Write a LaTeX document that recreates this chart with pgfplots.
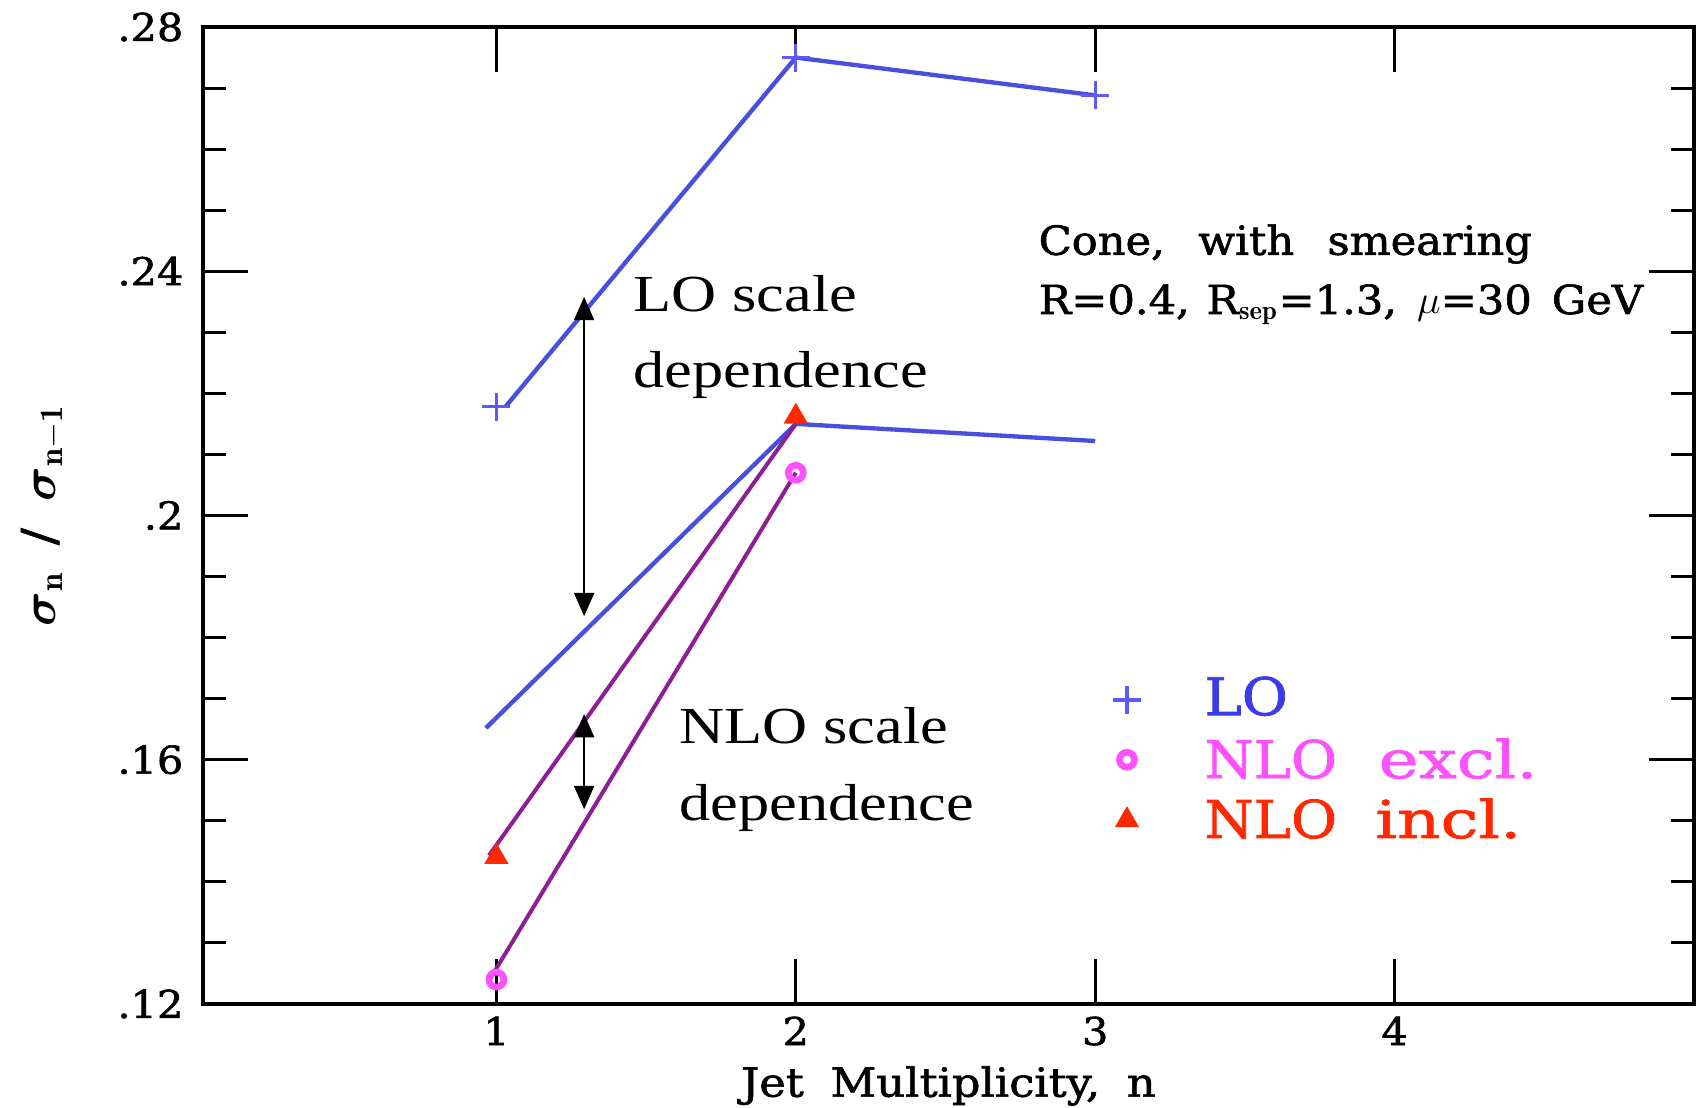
\documentclass[border=0pt]{standalone}
\usepackage{amsmath}
\usepackage{fontspec}
\usepackage{pgfplots}
\pgfplotsset{compat=1.18}
\usetikzlibrary{arrows.meta}
\newfontfamily\axfont[FakeStretch=1.08,FakeBold=1.5]{DejaVu Serif}
\newfontfamily\labfont[FakeStretch=1.12,FakeBold=1.5]{DejaVu Serif}
\newfontfamily\legwide[FakeStretch=1.3,FakeBold=1.5]{DejaVu Serif}
\newfontfamily\anfont[FakeStretch=1.2]{Liberation Serif}
\definecolor{loblue}{RGB}{70,80,220}
\definecolor{plusblue}{RGB}{90,90,255}
\definecolor{nlopurple}{RGB}{140,30,150}
\definecolor{excl}{RGB}{255,80,255}
\definecolor{incl}{RGB}{255,40,0}
\definecolor{lotext}{RGB}{60,60,230}
\begin{document}
\begin{tikzpicture}
\begin{axis}[name=ax, scale only axis, width=447.3pt, height=293.1pt,
  xmin=0.02, xmax=5, ymin=0.12, ymax=0.28, clip=false,
  axis line style={line width=1pt},
  tick style={line width=0.9pt, black},
  tick align=inside,
  xtick={1,2,3,4}, xticklabels={1,2,3,4},
  ytick={0.12,0.16,0.2,0.24,0.28}, yticklabels={.12,.16,.2,.24,.28},
  minor y tick num=3,
  major tick length=13.5pt, minor tick length=7pt,
  ticklabel style={font=\axfont\fontsize{11.5}{13}\selectfont},
  xticklabel style={anchor=base, yshift=-12.3pt},
  yticklabel style={anchor=east, inner sep=0pt, xshift=-5.7pt},
]
% markers (drawn below the lines)
\addplot[only marks, mark=triangle*, mark size=3.8pt, color=incl] coordinates {(1,0.1441) (2,0.2162)};
\addplot[only marks, mark=o, mark size=2.25pt, line width=2pt, color=excl] coordinates {(1,0.1240) (2,0.2070)};
\addplot[only marks, mark=+, mark size=4.2pt, line width=1pt, color=plusblue] coordinates {(1,0.2178) (2,0.2750) (3,0.2688)};
% lines
\addplot[loblue, line width=1.3pt] coordinates {(1.03,0.2178) (2,0.2750) (3,0.2688)};
\addplot[loblue, line width=1.3pt] coordinates {(0.965,0.1652) (2,0.2150) (3,0.2122)};
\addplot[nlopurple, line width=1.2pt] coordinates {(0.975,0.1443) (2,0.2150)};
\addplot[nlopurple, line width=1.2pt] coordinates {(0.975,0.1238) (2,0.2070)};
% legend markers
\addplot[only marks, mark=+, mark size=4.2pt, line width=1pt, color=plusblue] coordinates {(3.106,0.1698)};
\addplot[only marks, mark=o, mark size=2.25pt, line width=2pt, color=excl] coordinates {(3.106,0.1600)};
\addplot[only marks, mark=triangle*, mark size=3.8pt, color=incl] coordinates {(3.106,0.1501)};
% arrows
\draw[line width=0.6pt, {Triangle[width=6pt,length=7pt]}-{Triangle[width=6pt,length=7pt]}] (axis cs:1.293,0.2358) -- (axis cs:1.293,0.1835);
\draw[line width=0.6pt, {Triangle[width=6pt,length=7pt]}-{Triangle[width=6pt,length=7pt]}] (axis cs:1.293,0.1675) -- (axis cs:1.293,0.1519);
% annotations
\node[anchor=base west, inner sep=0pt, font=\anfont\fontsize{15.6}{18}\selectfont] at (axis cs:1.456,0.2334) {LO scale};
\node[anchor=base west, inner sep=0pt, font=\anfont\fontsize{15.6}{18}\selectfont] at (axis cs:1.456,0.2209) {dependence};
\node[anchor=base west, inner sep=0pt, font=\anfont\fontsize{15.6}{18}\selectfont] at (axis cs:1.610,0.1626) {NLO scale};
\node[anchor=base west, inner sep=0pt, font=\anfont\fontsize{15.6}{18}\selectfont] at (axis cs:1.610,0.1501) {dependence};
\node[anchor=base west, inner sep=0pt, font=\axfont\fontsize{12}{14}\selectfont] at (axis cs:2.809,0.2427) {Cone,\hspace{10pt}with\hspace{10pt}smearing};
\node[anchor=base west, inner sep=0pt, font=\axfont\fontsize{12}{14}\selectfont] at (axis cs:2.809,0.2330) {R=0.4,\hspace{5pt}R$_{\mathbf{sep}}$=1.3,\hspace{6pt}$\mu$=30\hspace{6pt}GeV};
% legend text
\node[anchor=base west, inner sep=0pt, text=lotext, font=\axfont\fontsize{15.6}{18}\selectfont] at (axis cs:3.363,0.1673) {LO};
\node[anchor=base west, inner sep=0pt, text=excl, font=\axfont\fontsize{15.6}{18}\selectfont] at (axis cs:3.363,0.1570) {NLO\hspace{12.5pt}{\legwide excl.}};
\node[anchor=base west, inner sep=0pt, text=incl, font=\axfont\fontsize{15.6}{18}\selectfont] at (axis cs:3.363,0.1472) {NLO\hspace{11.5pt}{\legwide incl.}};
\end{axis}
\node[rotate=90, inner sep=0pt, font=\axfont\fontsize{14}{16}\selectfont] at ([xshift=-48pt]ax.west) {$\boldsymbol{\sigma}_{\mathbf{n}}$\hspace{8pt}/\hspace{8pt}$\boldsymbol{\sigma}_{\mathbf{n-1}}$};
\node[anchor=base, inner sep=0pt, font=\labfont\fontsize{12}{14}\selectfont] at ([yshift=-27.8pt]ax.south) {Jet\hspace{8pt}Multiplicity,\hspace{8pt}n};
\pgfresetboundingbox
\path ([xshift=-60.9pt, yshift=-30.9pt]ax.south west) rectangle ([xshift=0.6pt, yshift=8.1pt]ax.north east);
\end{tikzpicture}
\end{document}
